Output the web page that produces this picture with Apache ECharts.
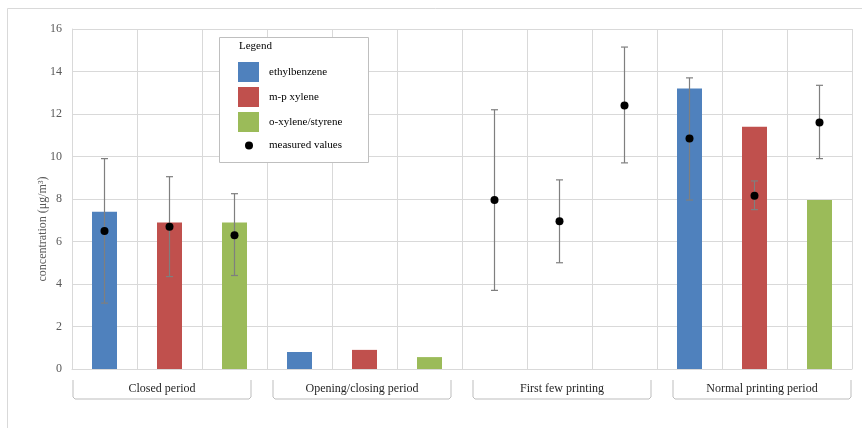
<!DOCTYPE html>
<html>
<head>
<meta charset="utf-8">
<script src="https://cdn.jsdelivr.net/npm/echarts@6/dist/echarts.min.js"></script>
<style>
html,body{margin:0;padding:0;background:#fff;}
#chart{width:862px;height:428px;}
</style>
</head>
<body>
<div id="chart"></div>
<script>
// ---- data ----
var groups = ['Closed period', 'Opening/closing period', 'First few printing', 'Normal printing period'];
var species = ['ethylbenzene', 'm-p xylene', 'o-xylene/styrene'];
var yTicks = [0, 2, 4, 6, 8, 10, 12, 14, 16];

var ethylbenzene   = [7.4, 0.8, null, 13.2];
var mpXylene       = [6.9, 0.9, null, 11.4];
var oXyleneStyrene = [6.9, 0.56, null, 7.95];

var measuredEthyl = [6.5, null, 7.95, 10.85];
var measuredMp    = [6.7, null, 6.95, 8.15];
var measuredO     = [6.3, null, 12.4, 11.6];

var errLowEthyl  = [3.1, null, 3.7, 7.95];
var errHighEthyl = [9.9, null, 12.2, 13.7];
var errLowMp     = [4.35, null, 5.0, 7.5];
var errHighMp    = [9.05, null, 8.9, 8.85];
var errLowO      = [4.4, null, 9.7, 9.9];
var errHighO     = [8.25, null, 15.15, 13.35];

var colors = ['#4F81BD', '#C0504D', '#9BBB59'];

// ---- build ----
var subCats = [];
groups.forEach(function (g) { species.forEach(function (s) { subCats.push(g + ' | ' + s); }); });

var barArrays = [ethylbenzene, mpXylene, oXyleneStyrene];
var measArrays = [measuredEthyl, measuredMp, measuredO];
var lowArrays = [errLowEthyl, errLowMp, errLowO];
var highArrays = [errHighEthyl, errHighMp, errHighO];

function barData(si) {
  var out = [];
  for (var gi = 0; gi < groups.length; gi++) {
    for (var k = 0; k < 3; k++) out.push(k === si ? barArrays[si][gi] : null);
  }
  return out;
}
var scatterData = [], errData = [];
for (var gi = 0; gi < groups.length; gi++) {
  for (var si = 0; si < 3; si++) {
    var idx = gi * 3 + si;
    if (measArrays[si][gi] != null) scatterData.push([idx, measArrays[si][gi]]);
    if (lowArrays[si][gi] != null) errData.push([idx, lowArrays[si][gi], highArrays[si][gi]]);
  }
}

var serif = '"Liberation Serif", "DejaVu Serif", serif';
var gridColor = '#d9d9d9';

var series = species.map(function (s, i) {
  return {
    name: s, type: 'bar', xAxisIndex: 0, yAxisIndex: 0,
    data: barData(i), barWidth: 25, barGap: '-100%',
    itemStyle: { color: colors[i] }, z: 2
  };
});
series.push({
  name: 'error', type: 'custom', xAxisIndex: 0, yAxisIndex: 0, z: 3,
  data: errData,
  renderItem: function (params, api) {
    var x = api.coord([api.value(0), api.value(1)])[0];
    var yl = api.coord([api.value(0), api.value(1)])[1];
    var yh = api.coord([api.value(0), api.value(2)])[1];
    var c = 3.5;
    var st = { stroke: '#7f7f7f', lineWidth: 1.2 };
    return { type: 'group', children: [
      { type: 'line', shape: { x1: x, y1: yl, x2: x, y2: yh }, style: st },
      { type: 'line', shape: { x1: x - c, y1: yl, x2: x + c, y2: yl }, style: st },
      { type: 'line', shape: { x1: x - c, y1: yh, x2: x + c, y2: yh }, style: st }
    ]};
  }
});
series.push({
  name: 'measured values', type: 'scatter', xAxisIndex: 0, yAxisIndex: 0,
  data: scatterData, symbolSize: 8, itemStyle: { color: '#000', opacity: 1 }, z: 4
});
series.push({
  name: 'groups', type: 'custom', xAxisIndex: 1, yAxisIndex: 1, silent: true,
  data: groups.map(function (g, i) { return [i]; }),
  renderItem: function (params, api) {
    var top = api.coord([api.value(0), 1]);
    var bot = api.coord([api.value(0), 0]);
    var w = api.size([1, 0])[0] * 0.89;
    var cx = top[0], y0 = top[1], y1 = bot[1];
    var l = cx - w / 2, r = cx + w / 2;
    return { type: 'group', children: [
      { type: 'polyline', shape: { points: [[l, y0], [l, y1 - 2], [l + 2, y1], [r - 2, y1], [r, y1 - 2], [r, y0]] },
        style: { stroke: '#bdbdbd', lineWidth: 1, fill: null } },
      { type: 'text', style: { text: groups[api.value(0)], x: cx, y: (y0 + y1) / 2 - 1,
        textAlign: 'center', textVerticalAlign: 'middle',
        font: '12px ' + serif, fill: '#262626' } }
    ]};
  }
});

var chart = echarts.init(document.getElementById('chart'));
chart.setOption({
  animation: false,
  backgroundColor: '#fff',
  grid: [
    { left: 72, right: 10, top: 29, bottom: 59 },
    { left: 62, width: 800, top: 380, height: 19 }
  ],
  xAxis: [
    { type: 'category', gridIndex: 0, data: subCats,
      axisTick: { show: false, interval: 0 }, axisLabel: { show: false, interval: 0 },
      axisLine: { lineStyle: { color: gridColor } },
      splitLine: { show: true, interval: 0, lineStyle: { color: gridColor } } },
    { type: 'category', gridIndex: 1, data: groups, show: false }
  ],
  yAxis: [
    { type: 'value', gridIndex: 0, min: yTicks[0], max: yTicks[yTicks.length - 1], interval: 2,
      axisLine: { show: true, lineStyle: { color: gridColor } },
      axisTick: { show: false },
      axisLabel: { fontFamily: serif, fontSize: 12, color: '#595959', margin: 10 },
      splitLine: { lineStyle: { color: gridColor } } },
    { type: 'value', gridIndex: 1, min: 0, max: 1, show: false }
  ],
  legend: [
    { data: species, orient: 'vertical', left: 238, top: 62, padding: 0,
      itemWidth: 21, itemHeight: 20, itemGap: 5, icon: 'rect', z: 6,
      textStyle: { fontFamily: serif, fontSize: 11, color: '#000', padding: [0, 0, 0, 5] } },
    { data: ['measured values'], orient: 'vertical', left: 245, top: 140, padding: 0,
      itemWidth: 8, itemHeight: 8, icon: 'circle', z: 6,
      textStyle: { fontFamily: serif, fontSize: 11, color: '#000', padding: [0, 0, 0, 11] } }
  ],
  graphic: [
    { type: 'rect', z: 0, silent: true, shape: { x: 7.5, y: 8.5, width: 900, height: 500 },
      style: { fill: null, stroke: '#d9d9d9', lineWidth: 1 } },
    { type: 'rect', z: 5, silent: true, shape: { x: 219.5, y: 37.5, width: 149, height: 125 },
      style: { fill: '#fff', stroke: '#bfbfbf', lineWidth: 1 } },
    { type: 'text', z: 6, silent: true, left: 239, top: 41,
      style: { text: 'Legend', font: '11px ' + serif, fill: '#000' } },
    { type: 'text', z: 6, silent: true, x: 43, y: 229, rotation: Math.PI / 2,
      style: { text: 'concentration (μg/m³)', font: '12px ' + serif, fill: '#595959',
        textAlign: 'center', textVerticalAlign: 'middle' } }
  ],
  series: series
});
</script>
</body>
</html>
